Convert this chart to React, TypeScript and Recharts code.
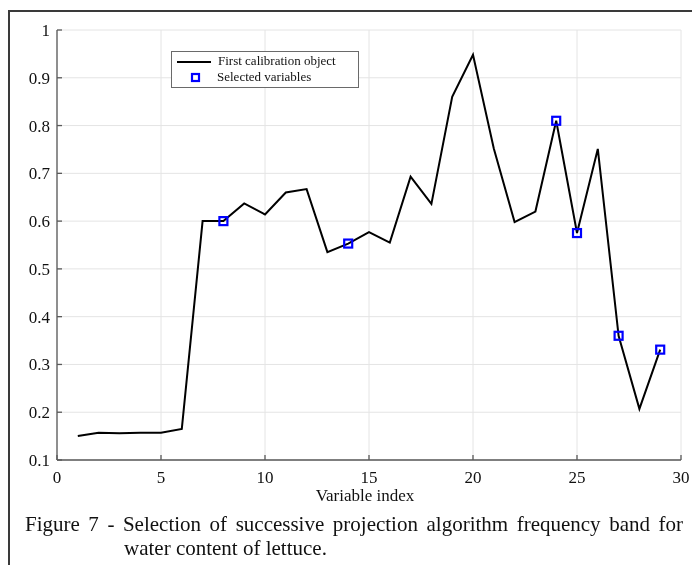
import React from 'react';
import { ComposedChart, Line, XAxis, YAxis, CartesianGrid } from 'recharts';

const variableIndex = [1, 2, 3, 4, 5, 6, 7, 8, 9, 10, 11, 12, 13, 14, 15, 16, 17, 18, 19, 20, 21, 22, 23, 24, 25, 26, 27, 28, 29];
const calibration = [
  0.150, 0.157, 0.156, 0.157, 0.157, 0.165, 0.600, 0.600, 0.637, 0.614,
  0.660, 0.667, 0.535, 0.553, 0.577, 0.555, 0.693, 0.636, 0.860, 0.948,
  0.752, 0.598, 0.620, 0.810, 0.575, 0.751, 0.360, 0.207, 0.331,
];
const selectedVariables = [8, 14, 24, 25, 27, 29];
const xTicks = [0, 5, 10, 15, 20, 25, 30];
const yTicks = [0.1, 0.2, 0.3, 0.4, 0.5, 0.6, 0.7, 0.8, 0.9, 1];

const data = variableIndex.map((x, i) => ({
  x,
  value: calibration[i],
  selected: selectedVariables.includes(x) ? calibration[i] : null,
}));

const serif = '"Liberation Serif", "Times New Roman", serif';
const axisColor = '#5a5a5a';
const tickStyle = { fontFamily: serif, fontSize: 17, fill: '#111' };

const SquareDot = (props: any) => {
  const { cx, cy, payload, index } = props;
  if (!payload || payload.selected == null || cx == null || cy == null) {
    return <g key={`sq-${index}`} />;
  }
  return (
    <rect
      key={`sq-${index}`}
      x={cx - 4}
      y={cy - 4}
      width={8}
      height={8}
      fill="none"
      stroke="#0000ff"
      strokeWidth={2.2}
    />
  );
};

const LegendBox = () => (
  <div
    style={{
      position: 'absolute',
      left: 163,
      top: 43,
      width: 188,
      height: 37,
      boxSizing: 'border-box',
      border: '1px solid #6a6a6a',
      background: '#fff',
      fontFamily: serif,
      fontSize: 13,
      color: '#111',
    }}
  >
    <svg width={40} height={37} style={{ position: 'absolute', left: 0, top: 0 }}>
      <line x1={5} y1={10} x2={39} y2={10} stroke="#000" strokeWidth={2} />
      <rect x={20} y={22} width={7} height={7} fill="none" stroke="#0000ff" strokeWidth={2.2} />
    </svg>
    <span style={{ position: 'absolute', left: 46, top: 1, whiteSpace: 'nowrap' }}>First calibration object</span>
    <span style={{ position: 'absolute', left: 45, top: 17, whiteSpace: 'nowrap' }}>Selected variables</span>
  </div>
);

export default function App() {
  return (
    <div style={{ position: 'fixed', left: 8, top: 8, width: 684, height: 557, overflow: 'hidden' }}>
      <div
        style={{
          position: 'absolute',
          left: 0,
          top: 2,
          width: 700,
          height: 600,
          borderTop: '2px solid #3a3a3a',
          borderLeft: '2px solid #3a3a3a',
        }}
      />
      <div style={{ position: 'absolute', left: 0, top: 0 }}>
        <ComposedChart
          width={684}
          height={500}
          data={data}
          margin={{ top: 22, right: 11, left: 0, bottom: 0 }}
          style={{ overflow: 'visible' }}
        >
          <CartesianGrid stroke="#e4e4e4" strokeWidth={1} />
          <XAxis
            dataKey="x"
            type="number"
            domain={[0, 30]}
            ticks={xTicks}
            allowDataOverflow
            height={48}
            tick={tickStyle}
            tickSize={-5}
            tickMargin={16}
            stroke={axisColor}
            strokeWidth={1.3}
            label={{ value: 'Variable index', position: 'insideBottom', offset: 7, dx: -4, style: { fontFamily: serif, fontSize: 17, fill: '#111' } }}
          />
          <XAxis
            xAxisId="top"
            orientation="top"
            dataKey="x"
            type="number"
            domain={[0, 30]}
            ticks={xTicks}
            height={0}
            tick={false}
            tickSize={-5}
            stroke={axisColor}
            strokeWidth={1.3}
          />
          <YAxis
            type="number"
            domain={[0.1, 1]}
            ticks={yTicks}
            allowDataOverflow
            width={49}
            tick={tickStyle}
            tickSize={-5}
            tickMargin={12}
            stroke={axisColor}
            strokeWidth={1.3}
            tickFormatter={(v: number) => String(Math.round(v * 10) / 10)}
          />
          <YAxis
            yAxisId="right"
            orientation="right"
            type="number"
            domain={[0.1, 1]}
            ticks={yTicks}
            width={0}
            tick={false}
            tickSize={-5}
            stroke={axisColor}
            strokeWidth={1.3}
          />
          <Line
            dataKey="value"
            name="First calibration object"
            stroke="#000"
            strokeWidth={2}
            dot={false}
            activeDot={false}
            isAnimationActive={false}
          />
          <Line
            dataKey="selected"
            name="Selected variables"
            stroke="none"
            dot={SquareDot}
            activeDot={false}
            legendType="none"
            isAnimationActive={false}
          />
        </ComposedChart>
      </div>
      <LegendBox />
      <div
        style={{
          position: 'absolute',
          left: 17,
          top: 504,
          width: 658,
          fontFamily: serif,
          fontSize: 21,
          lineHeight: '25px',
          color: '#111',
          textAlign: 'justify',
          textAlignLast: 'justify',
          whiteSpace: 'nowrap',
        }}
      >
        Figure 7 - Selection of successive projection algorithm frequency band for
      </div>
      <div
        style={{
          position: 'absolute',
          left: 116,
          top: 528,
          fontFamily: serif,
          fontSize: 21,
          lineHeight: '25px',
          color: '#111',
          whiteSpace: 'nowrap',
        }}
      >
        water content of lettuce.
      </div>
    </div>
  );
}
